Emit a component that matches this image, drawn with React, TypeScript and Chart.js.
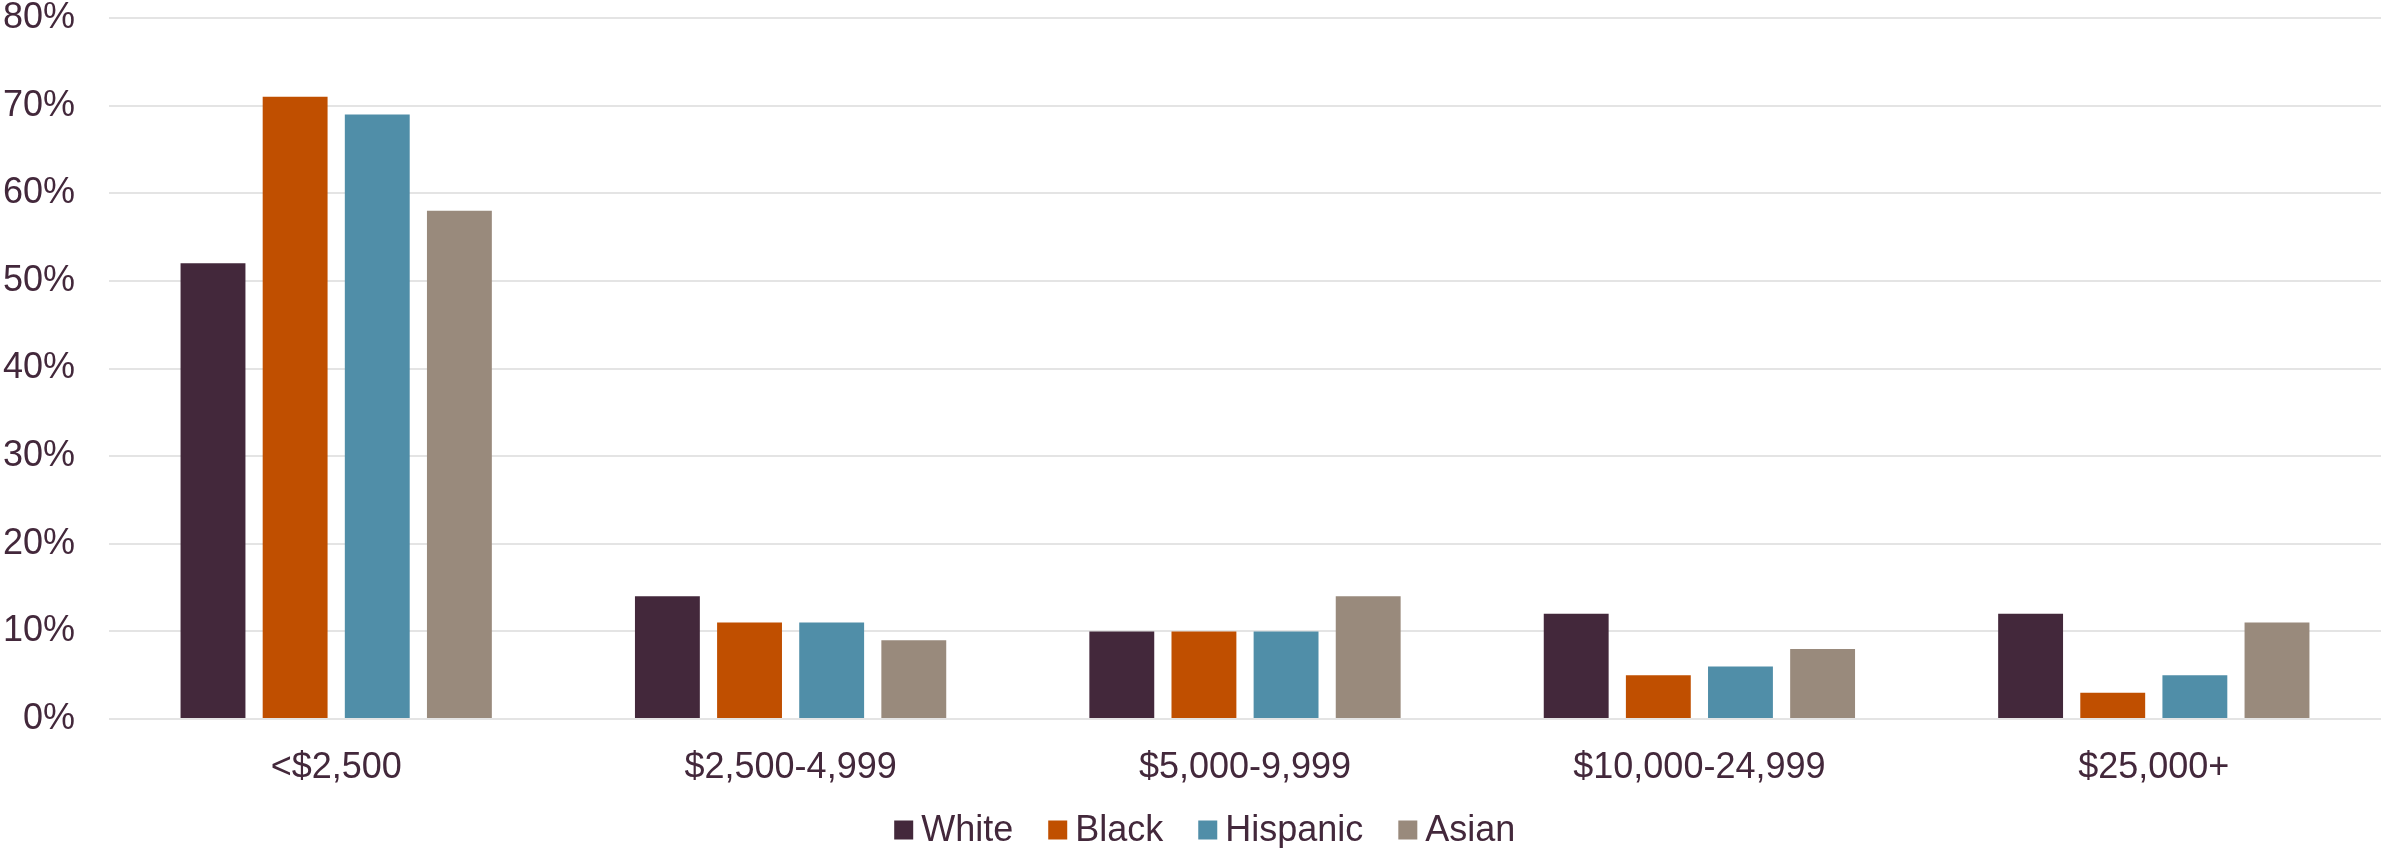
import React, { useEffect, useRef } from "react";
import { Chart, registerables } from "chart.js";

Chart.register(...registerables);

const categories = ["<$2,500", "$2,500-4,999", "$5,000-9,999", "$10,000-24,999", "$25,000+"];
const seriesNames = ["White", "Black", "Hispanic", "Asian"];
const whiteValues = [52, 14, 10, 12, 12];
const blackValues = [71, 11, 10, 5, 3];
const hispanicValues = [69, 11, 10, 6, 5];
const asianValues = [58, 9, 14, 8, 11];
const seriesColors = ["#43283B", "#C04F00", "#508EA8", "#998A7C"];
const yTicks = [0, 10, 20, 30, 40, 50, 60, 70, 80];

const TEXT = "#43283B";
const FONT = "'Liberation Sans', Arial, sans-serif";

const legendPlugin = {
  id: "customLegend",
  afterDraw(chart: any) {
    const ctx = chart.ctx;
    ctx.save();
    ctx.font = `36px ${FONT}`;
    const box = 19;
    const gapText = 8;
    const gapItems = 35;
    const items = chart.data.datasets.map((ds: any) => ({
      text: ds.label as string,
      color: ds.backgroundColor as string,
      w: ctx.measureText(ds.label).width,
    }));
    const total =
      items.reduce((s: number, it: any) => s + box + gapText + it.w, 0) + gapItems * (items.length - 1);
    let x = chart.width * 0.506 - total / 2;
    const boxTop = chart.height - 27.5;
    const baseline = chart.height - 7.5;
    ctx.textBaseline = "alphabetic";
    ctx.textAlign = "left";
    for (const it of items) {
      ctx.fillStyle = it.color;
      ctx.fillRect(x, boxTop, box, box);
      x += box + gapText;
      ctx.fillStyle = TEXT;
      ctx.fillText(it.text, x, baseline);
      x += it.w + gapItems;
    }
    ctx.restore();
  },
};

export default function App() {
  const ref = useRef<HTMLCanvasElement | null>(null);
  useEffect(() => {
    if (!ref.current) return;
    const values = [whiteValues, blackValues, hispanicValues, asianValues];
    const chart = new Chart(ref.current, {
      type: "bar",
      data: {
        labels: categories,
        datasets: seriesNames.map((name, i) => ({
          label: name,
          data: values[i],
          backgroundColor: seriesColors[i],
          borderWidth: 0,
          categoryPercentage: 0.723,
          barPercentage: 0.79,
        })),
      },
      options: {
        animation: false,
        responsive: true,
        maintainAspectRatio: false,
        layout: { padding: { left: 3, right: 0, top: 0, bottom: 59 } },
        plugins: {
          tooltip: { enabled: false },
          legend: { display: false },
        },
        scales: {
          x: {
            grid: { display: false },
            border: { display: false },
            ticks: {
              color: TEXT,
              font: { family: FONT, size: 36 },
              padding: 19,
              maxRotation: 0,
            },
            afterFit: (axis: any) => {
              axis.height = 70;
            },
          },
          y: {
            min: 0,
            max: 80,
            afterBuildTicks: (axis: any) => {
              axis.ticks = yTicks.map((v) => ({ value: v }));
            },
            grid: { color: "#E4E4E4", lineWidth: 2, drawTicks: false },
            border: { display: false },
            ticks: {
              color: TEXT,
              font: { family: FONT, size: 36 },
              padding: 34,
              callback: (v: any) => v + "%",
            },
            afterFit: (axis: any) => {
              axis.width = 106;
              axis.paddingTop = 18;
              axis.paddingBottom = 0;
            },
          },
        },
      },
      plugins: [legendPlugin],
    });
    return () => chart.destroy();
  }, []);
  return (
    <div style={{ position: "absolute", left: 0, top: 0, width: 2381, height: 848, background: "#fff" }}>
      <canvas ref={ref} />
    </div>
  );
}
